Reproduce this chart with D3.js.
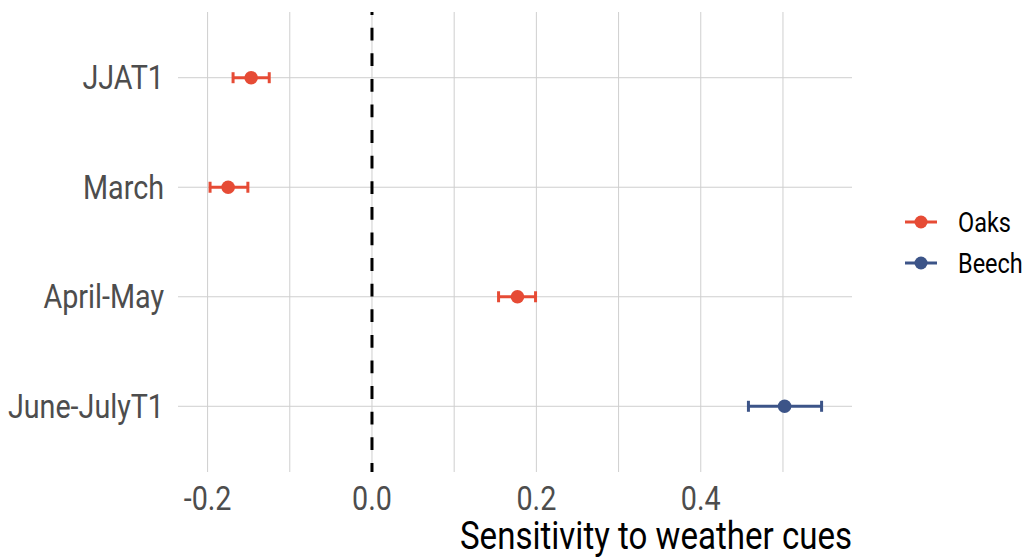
<!DOCTYPE html>
<html>
<head>
<meta charset="utf-8">
<script src="https://cdn.jsdelivr.net/npm/d3@7"></script>
<style>
  html, body { margin: 0; padding: 0; background: #fff; }
  svg { display: block; font-family: Roboto, "Noto Sans", sans-serif; }
</style>
</head>
<body>
<div id="chart"></div>
<script>
// Data — sensitivity estimates with their interval ends, one row per cue.
const categories = ["JJAT1", "March", "April-May", "June-JulyT1"];
const species = ["Oaks", "Oaks", "Oaks", "Beech"];
const estimates = [-0.147, -0.175, 0.177, 0.502];
const lower = [-0.169, -0.197, 0.154, 0.458];
const upper = [-0.125, -0.151, 0.199, 0.547];

const legendLabels = ["Oaks", "Beech"];
const legendColors = ["#E64B35", "#3C5488"];
const majorTicks = [-0.2, 0.0, 0.2, 0.4];
const minorTicks = [-0.1, 0.1, 0.3, 0.5];
const xDomain = [-0.236, 0.584];

const W = 1024, H = 558;
// Panel box in pixels; categories sit 0.6 steps in from top and bottom.
const panel = { left: 178, right: 852, top: 12, bottom: 472 };
// Roboto Condensed isn't installed, so squeeze plain Roboto horizontally.
const COND = 0.87;
const GRID = "#cfcfcf";

const svg = d3.select("#chart").append("svg")
    .attr("width", W).attr("height", H);

const x = d3.scaleLinear().domain(xDomain).range([panel.left, panel.right]);
const y = d3.scalePoint().domain(categories)
    .range([panel.top, panel.bottom]).padding(0.6);
const color = d3.scaleOrdinal().domain(legendLabels).range(legendColors);

function label(g, txt, px, py, size, anchor, fill) {
    return g.append("text")
        .attr("transform", `translate(${px},${py}) scale(${COND},1)`)
        .attr("text-anchor", anchor)
        .attr("font-size", size)
        .attr("fill", fill)
        .text(txt);
}

// Grid — minor + major verticals, one horizontal per category.
const grid = svg.append("g");
grid.selectAll("line.v")
    .data(minorTicks.concat(majorTicks))
    .join("line")
    .attr("x1", (d) => x(d)).attr("x2", (d) => x(d))
    .attr("y1", panel.top).attr("y2", panel.bottom)
    .attr("stroke", GRID).attr("stroke-width", 1);
grid.selectAll("line.h")
    .data(categories)
    .join("line")
    .attr("x1", panel.left).attr("x2", panel.right)
    .attr("y1", (d) => y(d)).attr("y2", (d) => y(d))
    .attr("stroke", GRID).attr("stroke-width", 1);

// Zero reference line.
svg.append("line")
    .attr("x1", x(0)).attr("x2", x(0))
    .attr("y1", panel.top).attr("y2", panel.bottom)
    .attr("stroke", "#000").attr("stroke-width", 3)
    .attr("stroke-dasharray", "12.8,12.8")
    .attr("stroke-dashoffset", 9.9);

// Error bars + points.
const marks = svg.append("g");
const rows = categories.map((c, i) => ({
    cat: c, sp: species[i], est: estimates[i], lo: lower[i], hi: upper[i],
}));
const CAP = 5.5;
rows.forEach((d) => {
    const cy = y(d.cat);
    const col = color(d.sp);
    const g = marks.append("g").attr("stroke", col).attr("stroke-width", 3);
    g.append("line").attr("x1", x(d.lo)).attr("x2", x(d.hi)).attr("y1", cy).attr("y2", cy);
    g.append("line").attr("x1", x(d.lo)).attr("x2", x(d.lo)).attr("y1", cy - CAP).attr("y2", cy + CAP);
    g.append("line").attr("x1", x(d.hi)).attr("x2", x(d.hi)).attr("y1", cy - CAP).attr("y2", cy + CAP);
    marks.append("circle")
        .attr("cx", x(d.est)).attr("cy", cy).attr("r", 6.8)
        .attr("fill", col);
});

// Axis labels.
const axes = svg.append("g");
categories.forEach((c) => label(axes, c, 164, y(c) + 11.5, 33, "end", "#4d4d4d"));
majorTicks.forEach((t) =>
    label(axes, d3.format(".1f")(t).replace("−", "-"), x(t), 510, 33, "middle", "#4d4d4d"));
label(axes, "Sensitivity to weather cues", panel.right, 549, 38, "end", "#000");

// Legend.
const legend = svg.append("g");
legendLabels.forEach((s, i) => {
    const ly = 222 + i * 41;
    legend.append("line")
        .attr("x1", 905).attr("x2", 937).attr("y1", ly).attr("y2", ly)
        .attr("stroke", color(s)).attr("stroke-width", 3);
    legend.append("circle")
        .attr("cx", 921).attr("cy", ly).attr("r", 6.5).attr("fill", color(s));
    label(legend, s, 958, ly + 10, 27, "start", "#000");
});
</script>
</body>
</html>
